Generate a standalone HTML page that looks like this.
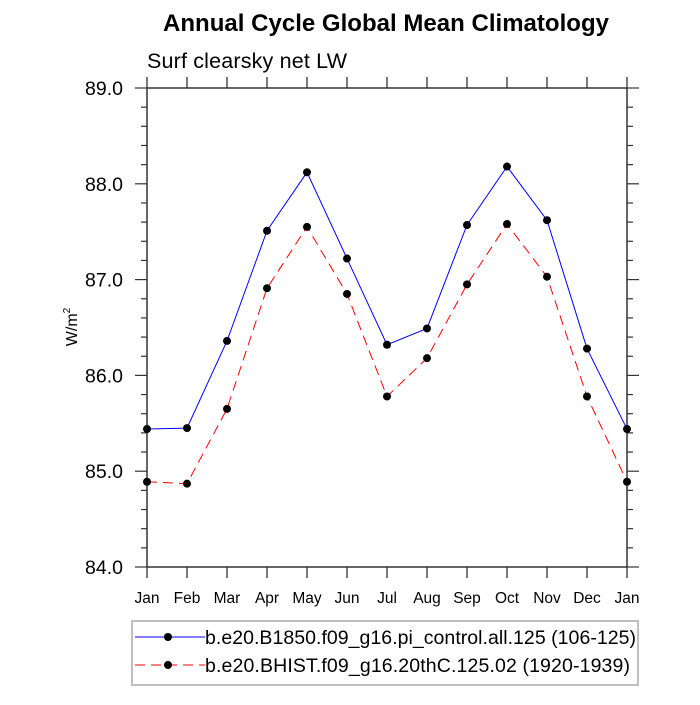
<!DOCTYPE html>
<html><head><meta charset="utf-8"><style>
body{margin:0;background:#fff}
svg text{font-family:"Liberation Sans",sans-serif;fill:#000}
</style></head><body>
<svg id="c" width="700" height="700">
<text x="386" y="31" text-anchor="middle" font-size="24" font-weight="bold" textLength="446">Annual Cycle Global Mean Climatology</text>
<text x="147" y="68" font-size="21.5" textLength="200">Surf clearsky net LW</text>
<text transform="translate(77,327) rotate(-90)" text-anchor="middle" font-size="16">W/m<tspan dy="-7" font-size="10">2</tspan></text>
<g id="axes"></g>
<g id="series"></g>
<g>
<rect x="132" y="621" width="506" height="64" fill="none" stroke="#aaa" stroke-width="1.5"/>
<g>
<line x1="135" y1="637" x2="205" y2="637" stroke="#0000ff" stroke-width="1"/>
<circle cx="168" cy="637" r="4" fill="#000"/>
<text x="205" y="644" font-size="19.5" textLength="431">b.e20.B1850.f09_g16.pi_control.all.125 (106-125)</text>
</g>
<g>
<line x1="135" y1="665" x2="205" y2="665" stroke="#ff0000" stroke-width="1" stroke-dasharray="10,6"/>
<circle cx="168" cy="665" r="4" fill="#000"/>
<text x="205" y="672" font-size="19.5" textLength="425">b.e20.BHIST.f09_g16.20thC.125.02 (1920-1939)</text>
</g>
</g>
</svg>
<script>
const months=["Jan","Feb","Mar","Apr","May","Jun","Jul","Aug","Sep","Oct","Nov","Dec","Jan"];
const b1850=[85.44,85.45,86.36,87.51,88.12,87.22,86.32,86.49,87.57,88.18,87.62,86.28,85.44];
const bhist=[84.89,84.87,85.65,86.91,87.55,86.85,85.78,86.18,86.95,87.58,87.03,85.78,84.89];
const yTicks=[84.0,85.0,86.0,87.0,88.0,89.0];
const NS="http://www.w3.org/2000/svg";
const L=147,R=627,T=88,B=567,ymin=84,ymax=89;
const xs=i=>L+(R-L)*i/(months.length-1);
const ys=v=>B-(B-T)*(v-ymin)/(ymax-ymin);
function mk(t,a,p){const e=document.createElementNS(NS,t);for(const k in a)e.setAttribute(k,a[k]);p.appendChild(e);return e;}
const ax=document.getElementById('axes');
const frame=mk('rect',{x:L,y:T,width:R-L,height:B-T,fill:'none',stroke:'#333','stroke-width':1.5},ax);


months.forEach((m,i)=>{
 const x=xs(i);
 mk('line',{x1:x,y1:B,x2:x,y2:B+11,stroke:'#333','stroke-width':1.3},ax);
 mk('line',{x1:x,y1:T,x2:x,y2:T-11,stroke:'#333','stroke-width':1.3},ax);
 const t=mk('text',{x:x,y:B+36,'text-anchor':'middle','font-size':15.5},ax);
 t.textContent=m;
 
 
});
for(let v=ymin;v<=ymax+1e-9;v+=0.2){
 const y=ys(v);const maj=Math.abs(v-Math.round(v))<1e-6;const len=maj?12:6;
 mk('line',{x1:L,y1:y,x2:L-len,y2:y,stroke:'#333','stroke-width':1.2},ax);
 mk('line',{x1:R,y1:y,x2:R+len,y2:y,stroke:'#333','stroke-width':1.2},ax);
}
yTicks.forEach(v=>{
 const t=mk('text',{x:L-24,y:ys(v)+7,'text-anchor':'end','font-size':19.5},ax);
 t.textContent=v.toFixed(1);
 
 
});
const sg=document.getElementById('series');
function series(vals,color,dash,name){
 const g=mk('g',{},sg);
 
 
 const pl=mk('polyline',{points:vals.map((v,i)=>xs(i)+','+ys(v)).join(' '),fill:'none',stroke:color,'stroke-width':1,'stroke-dasharray':dash},g);
 
 
 vals.forEach((v,i)=>{
  const c=mk('circle',{cx:xs(i),cy:ys(v),r:4,fill:'#000'},g);
  
  
 });
}
series(b1850,'#0000ff','none','series-b1850');
series(bhist,'#ff0000','10,6','series-bhist');
</script>
</body></html>
